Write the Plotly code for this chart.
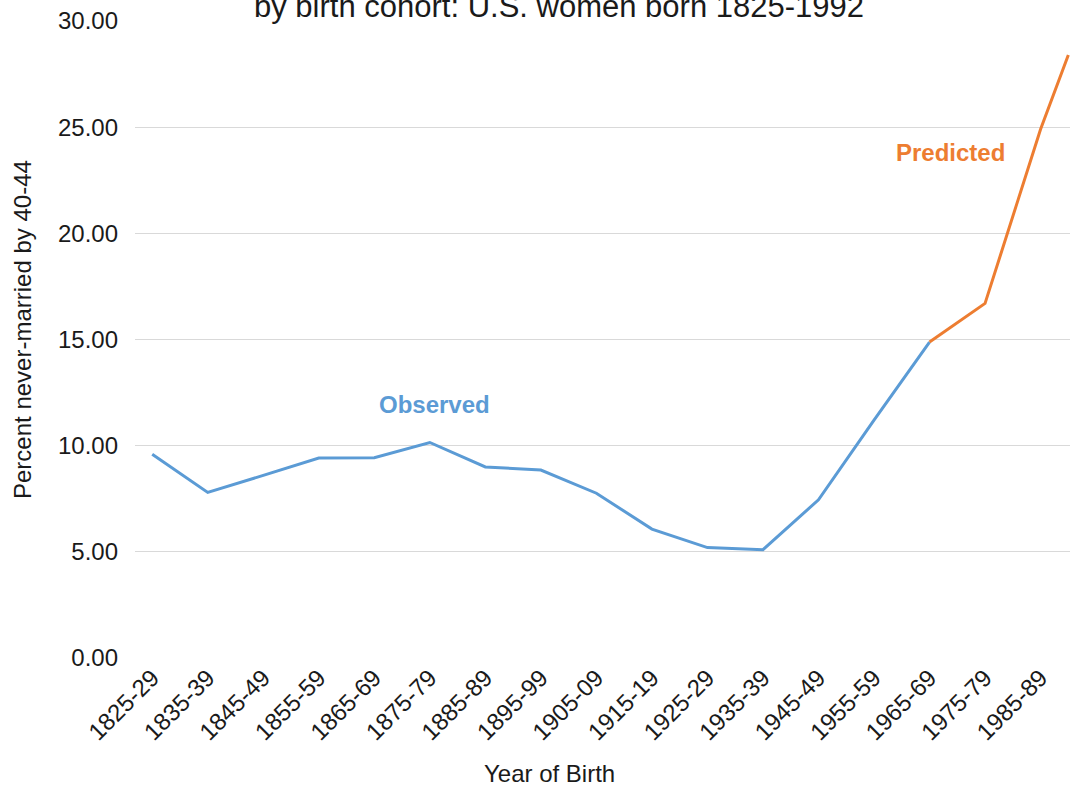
import plotly.graph_objects as go

# Birth cohorts (start year) and their axis labels
cohort_start = [1825, 1835, 1845, 1855, 1865, 1875, 1885, 1895, 1905,
                1915, 1925, 1935, 1945, 1955, 1965, 1975, 1985]
cohort_labels = ["1825-29", "1835-39", "1845-49", "1855-59", "1865-69",
                 "1875-79", "1885-89", "1895-99", "1905-09", "1915-19",
                 "1925-29", "1935-39", "1945-49", "1955-59", "1965-69",
                 "1975-79", "1985-89"]

# Observed percent never married by age 40-44
observed_x = [1825, 1835, 1845, 1855, 1865, 1875, 1885, 1895, 1905,
              1915, 1925, 1935, 1945, 1955, 1965]
observed_y = [9.60, 7.80, 8.60, 9.42, 9.43, 10.15, 9.00, 8.85, 7.76,
              6.07, 5.20, 5.10, 7.45, 11.20, 14.88]

# Predicted values (1990-92 is the final, partial cohort)
predicted_x = [1965, 1975, 1985, 1990]
predicted_y = [14.88, 16.70, 24.90, 28.40]

y_ticks = [0, 5, 10, 15, 20, 25, 30]

BLUE = "#5B9BD5"
ORANGE = "#ED7D31"
FONT = "Liberation Sans, Arial, sans-serif"

fig = go.Figure()
fig.add_trace(go.Scatter(x=observed_x, y=observed_y, mode="lines",
                         line=dict(color=BLUE, width=3), name="Observed"))
fig.add_trace(go.Scatter(x=predicted_x, y=predicted_y, mode="lines",
                         line=dict(color=ORANGE, width=3), name="Predicted"))

fig.update_layout(
    width=1070, height=786,
    margin=dict(l=135, r=0, t=21, b=128),
    paper_bgcolor="white", plot_bgcolor="white",
    showlegend=False,
    font=dict(family=FONT, size=24, color="#1a1a1a"),
)

fig.update_xaxes(
    range=[1821.9, 1990.3],
    tickmode="array", tickvals=cohort_start, ticktext=cohort_labels,
    tickangle=-45, showgrid=False, zeroline=False, showline=False,
    ticks="", tickfont=dict(size=24),
)
fig.update_yaxes(
    range=[0, 30], tickvals=y_ticks, tickformat=".2f",
    showgrid=True, gridcolor="#D9D9D9", gridwidth=1,
    zeroline=False, showline=False, ticks="",
    ticklabelstandoff=16, tickfont=dict(size=24),
)

fig.add_annotation(text="by birth cohort: U.S. women born 1825-1992",
                   xref="paper", yref="paper", x=(559 - 135) / 935,
                   y=1.0 - (26 - 21) / 637, xanchor="center", yanchor="bottom",
                   showarrow=False, font=dict(size=31, color="#1a1a1a"))
fig.add_annotation(text="Percent never-married by 40-44", textangle=-90,
                   xref="paper", yref="paper", x=(22 - 135) / 935,
                   y=(658 - 330) / 637, xanchor="center", yanchor="middle",
                   showarrow=False, font=dict(size=24))
fig.add_annotation(text="Year of Birth", xref="paper", yref="paper",
                   x=(549 - 135) / 935, y=(658 - 773) / 637,
                   xanchor="center", yanchor="middle", showarrow=False,
                   font=dict(size=24))
fig.add_annotation(text="<b>Observed</b>", x=1875.8, y=11.96,
                   showarrow=False, font=dict(size=24, color=BLUE))
fig.add_annotation(text="<b>Predicted</b>", x=1968.7, y=23.8,
                   showarrow=False, font=dict(size=24, color=ORANGE))

fig.write_html("out.html")
